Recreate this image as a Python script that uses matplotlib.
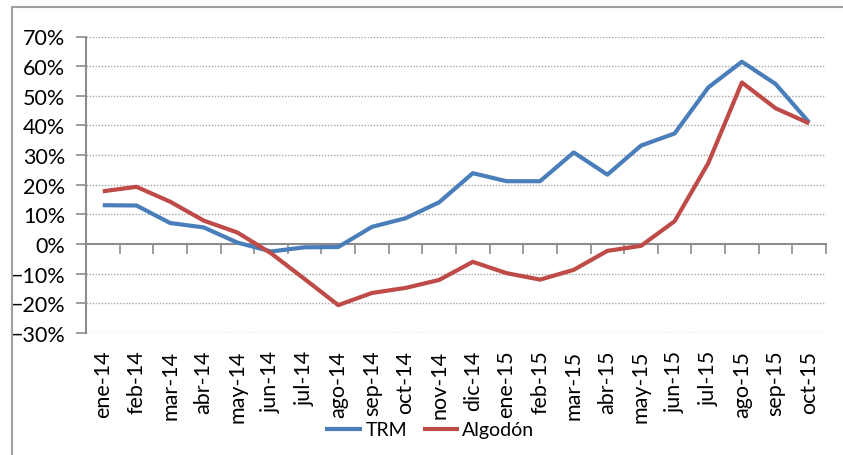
import matplotlib
matplotlib.use("Agg")
import matplotlib.pyplot as plt
from matplotlib.patches import Rectangle
from matplotlib.ticker import PercentFormatter
import numpy as np

categories = ["ene-14", "feb-14", "mar-14", "abr-14", "may-14", "jun-14", "jul-14",
              "ago-14", "sep-14", "oct-14", "nov-14", "dic-14", "ene-15", "feb-15",
              "mar-15", "abr-15", "may-15", "jun-15", "jul-15", "ago-15", "sep-15", "oct-15"]
trm = [13.1, 13.0, 7.1, 5.6, 0.5, -2.5, -1.1, -1.0, 5.8, 8.7, 14.1, 23.9,
       21.2, 21.2, 30.9, 23.4, 33.2, 37.3, 52.8, 61.5, 54.0, 41.0]
algodon = [17.8, 19.3, 14.3, 7.9, 3.9, -3.1, -11.8, -20.6, -16.5, -14.8, -12.1, -6.0,
           -9.8, -12.0, -8.7, -2.3, -0.6, 7.7, 27.3, 54.5, 45.8, 40.7]
yticks = [-30, -20, -10, 0, 10, 20, 30, 40, 50, 60, 70]

plt.rcParams['font.family'] = ['Lato', 'DejaVu Sans']

W, H = 843, 456
fig = plt.figure(figsize=(W / 100, H / 100), dpi=100)
ax = fig.add_axes([86 / W, 1 - 334 / H, (826 - 86) / W, (334 - 37.5) / H])

grey = "#8C8C8C"
x = np.arange(len(categories))
ax.plot(x, trm, color="#4A7EBB", lw=3.0, label="TRM", solid_capstyle="butt")
ax.plot(x, algodon, color="#BE4B48", lw=3.0, label="Algodón", solid_capstyle="butt")

ax.set_xlim(-0.5, len(categories) - 0.5)
ax.set_ylim(-30, 70)
ax.set_yticks(yticks)
ax.yaxis.set_major_formatter(PercentFormatter(decimals=0))
for yv in yticks:
    if yv != 0:
        ax.axhline(yv, color="#A6A6A6", lw=1.0, ls=(0, (1, 1.2)), zorder=0)

ax.set_xticks(x)
ax.set_xticklabels(categories, rotation=90, fontsize=15.5)
ax.tick_params(axis="x", length=0, pad=12)
ax.tick_params(axis="y", direction="out", length=7, width=1.2, color=grey, labelsize=15.5, pad=8)

for s in ["top", "right", "bottom"]:
    ax.spines[s].set_visible(False)
ax.spines["left"].set_color(grey)
ax.spines["left"].set_linewidth(1.5)

sec = ax.secondary_xaxis(0.3)
sec.set_xticks(np.arange(len(categories) + 1) - 0.5)
sec.tick_params(axis="x", direction="out", length=7, width=1.2, color=grey, labelbottom=False)
sec.spines["bottom"].set_color(grey)
sec.spines["bottom"].set_linewidth(1.5)

leg = fig.legend(loc="center", bbox_to_anchor=(430 / W, 1 - 431 / H), ncol=2, frameon=False,
                 fontsize=14, handlelength=1.9, handletextpad=0.15, columnspacing=0.8)

fig.patches.append(Rectangle((12 / W, -0.1), 1.2, 1 - 8 / H + 0.1, transform=fig.transFigure,
                             fill=False, edgecolor="#A0A0A0", lw=1.5))

fig.savefig("out.png", dpi=100)
